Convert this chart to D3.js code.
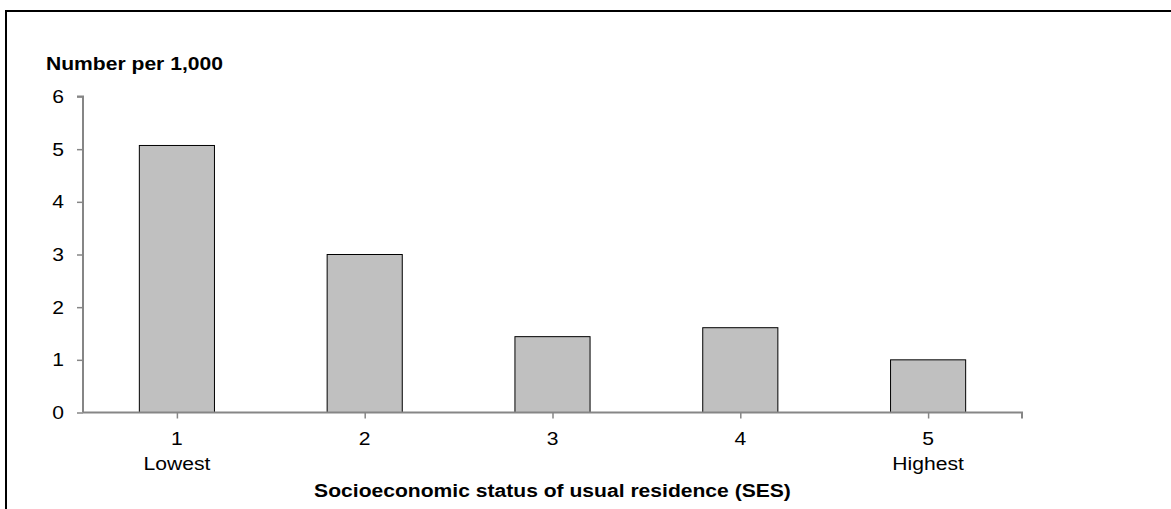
<!DOCTYPE html>
<html><head><meta charset="utf-8">
<script src="https://cdn.jsdelivr.net/npm/d3@7"></script>
<style>
html,body{margin:0;padding:0;background:#fff;}
svg{display:block;font-family:Arial,"Liberation Sans",sans-serif;}
</style></head>
<body>
<svg id="chart" width="1171" height="509"></svg>
<script>
const categories = ["1", "2", "3", "4", "5"];
const subLabels = ["Lowest", "", "", "", "Highest"];
const values = [5.07, 3.0, 1.44, 1.61, 1.0];
const yTicks = [0, 1, 2, 3, 4, 5, 6];
const yTitle = "Number per 1,000";
const xTitle = "Socioeconomic status of usual residence (SES)";

const svg = d3.select("#chart");
const m = {left: 83, right: 1022, top: 96.5, bottom: 412.5};
const SX = 1.11; // horizontal stretch of the reference's text
const FS = 19;

// outer frame
svg.append("rect").attr("x", 6).attr("y", 11).attr("width", 1300).attr("height", 600)
  .attr("fill", "none").attr("stroke", "#000").attr("stroke-width", 2);

const x = d3.scaleBand().domain(categories).range([m.left, m.right]).paddingInner(0.6).paddingOuter(0.3);
const xc = d3.scalePoint().domain(categories).range([m.left, m.right]).padding(0.5);
const y = d3.scaleLinear().domain([0, 6]).range([m.bottom, m.top]);

// bars
svg.append("g").selectAll("rect").data(values).join("rect")
  .attr("x", (d, i) => x(categories[i]))
  .attr("y", d => y(d))
  .attr("width", x.bandwidth())
  .attr("height", d => y(0) - y(d))
  .attr("fill", "#c0c0c0").attr("stroke", "#000").attr("stroke-width", 1);

const axisColor = "#868686";

// y axis
const yAxis = svg.append("g").attr("transform", `translate(${m.left},0)`)
  .call(d3.axisLeft(y).tickValues(yTicks).tickFormat(d3.format("d")).tickSize(6).tickPadding(13));
yAxis.select(".domain").attr("stroke", axisColor).attr("stroke-width", 2).attr("d", `M-6,${y(6)}H0V${y(0)}`);
yAxis.selectAll(".tick line").attr("stroke", axisColor).attr("stroke-width", 1.5);
yAxis.selectAll(".tick text").attr("fill", "#000").attr("font-size", FS)
  .attr("font-family", "Arial, 'Liberation Sans', sans-serif")
  .attr("transform", `translate(-19,0) scale(${SX},1)`).attr("x", null);

// x axis
const xAxis = svg.append("g").attr("transform", `translate(0,${m.bottom})`)
  .call(d3.axisBottom(xc).tickSize(6).tickPadding(6).tickFormat(() => ""));
xAxis.select(".domain").attr("stroke", axisColor).attr("stroke-width", 2).attr("d", `M${m.left},0H${m.right}V6`);
xAxis.selectAll(".tick line").attr("stroke", axisColor).attr("stroke-width", 1.5);
xAxis.selectAll(".tick text").remove();

function stretched(sel, tx, ty) {
  return sel.attr("transform", (d, i) => `translate(${tx(d, i)},${ty(d, i)}) scale(${SX},1)`);
}

const lab = svg.append("g");
stretched(lab.selectAll("text.num").data(categories).join("text").attr("class", "num"),
  d => xc(d), () => 445).attr("text-anchor", "middle").attr("font-size", FS).text(d => d);
stretched(lab.selectAll("text.sub").data(subLabels).join("text").attr("class", "sub"),
  (d, i) => xc(categories[i]), () => 470).attr("text-anchor", "middle").attr("font-size", FS).text(d => d);

// titles
svg.append("text").attr("transform", `translate(46,70) scale(${SX},1)`)
  .attr("font-size", FS).attr("font-weight", "bold").text(yTitle);
svg.append("text").attr("transform", `translate(${(m.left + m.right) / 2},497) scale(${SX},1)`)
  .attr("text-anchor", "middle").attr("font-size", FS).attr("font-weight", "bold").text(xTitle);
</script>
</body></html>
